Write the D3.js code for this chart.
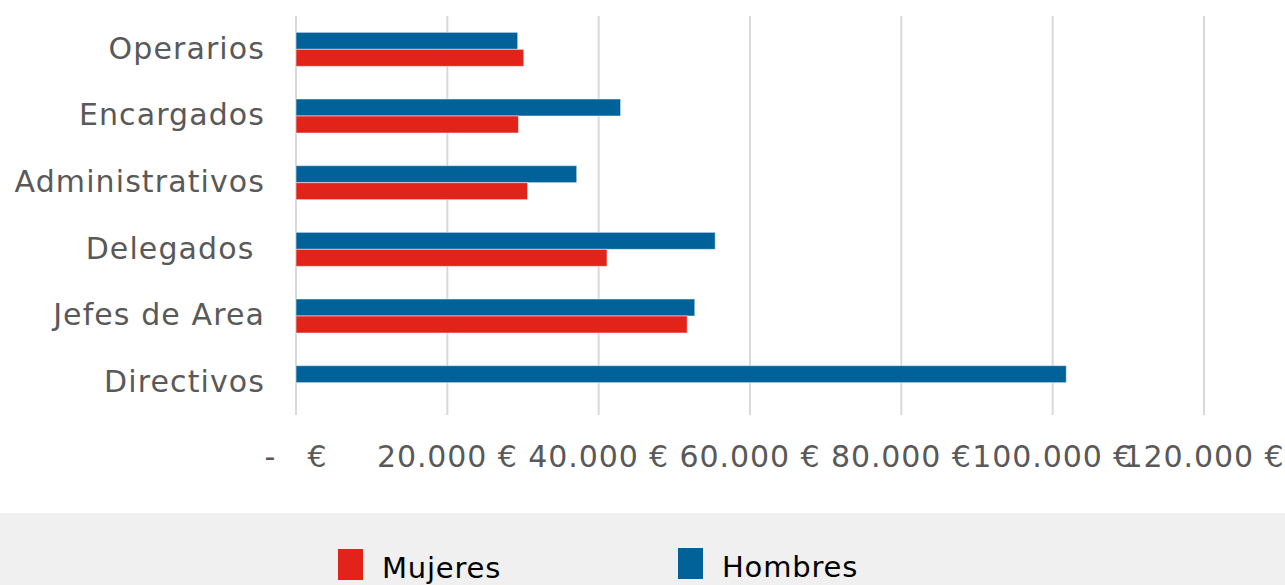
<!DOCTYPE html>
<html>
<head>
<meta charset="utf-8">
<script src="https://cdn.jsdelivr.net/npm/d3@7"></script>
<style>
  body { margin: 0; background: #fff; }
  svg text { font-family: "DejaVu Sans", sans-serif; }
</style>
</head>
<body>
<svg id="chart" width="1285" height="585"></svg>
<script>
const categories = ['Operarios', 'Encargados', 'Administrativos', 'Delegados ', 'Jefes de Area', 'Directivos'];
const series = ['Hombres', 'Mujeres'];
const hombres = [29300, 42900, 37100, 55400, 52700, 101800];
const mujeres = [30100, 29400, 30600, 41100, 51700, 0];
const xTicks = [0, 20000, 40000, 60000, 80000, 100000, 120000];
const legendOrder = ['Mujeres', 'Hombres'];

const colors = { Hombres: '#006298', Mujeres: '#e2231a' };
const svg = d3.select('#chart');

const x = d3.scaleLinear().domain([0, 120000]).range([296, 1204]);
const y = d3.scaleBand().domain(categories).range([16, 416]).paddingInner(0.49).paddingOuter(0.245);
const ySub = d3.scaleBand().domain(series).range([0, y.bandwidth()]);

// legend background
svg.append('rect').attr('x', 0).attr('y', 513).attr('width', 1285).attr('height', 72).attr('fill', '#f0f0f0');

// gridlines
svg.append('g').selectAll('line')
  .data(xTicks)
  .enter().append('line')
  .attr('x1', d => x(d)).attr('x2', d => x(d))
  .attr('y1', 16).attr('y2', 415)
  .attr('stroke', '#d9d9d9').attr('stroke-width', 2);

// bars
const rows = categories.map((c, i) => ({ cat: c, Hombres: hombres[i], Mujeres: mujeres[i] }));
const group = svg.append('g').selectAll('g')
  .data(rows)
  .enter().append('g')
  .attr('transform', d => `translate(0, ${y(d.cat)})`);

group.selectAll('rect')
  .data(d => series.map(s => ({ s, v: d[s] })).filter(e => e.v > 0))
  .enter().append('rect')
  .attr('x', x(0))
  .attr('y', d => ySub(d.s))
  .attr('width', d => x(d.v) - x(0))
  .attr('height', ySub.bandwidth())
  .attr('fill', d => colors[d.s])
  .attr('stroke', 'rgba(255,255,255,0.5)')
  .attr('stroke-width', 1);

// category labels
svg.append('g').selectAll('text')
  .data(categories)
  .enter().append('text')
  .attr('x', 265)
  .attr('y', d => y(d) + y.bandwidth() / 2)
  .attr('dy', '0.31em')
  .attr('text-anchor', 'end')
  .attr('fill', '#595959')
  .attr('font-size', 30)
  .attr('letter-spacing', 1.1)
  .style('white-space', 'pre')
  .text(d => d);

// x tick labels (accounting format)
const fmt = v => v === 0 ? '-   €' : d3.format(',')(v).replace(/,/g, '.') + ' €';
svg.append('g').selectAll('text')
  .data(xTicks)
  .enter().append('text')
  .attr('x', d => x(d))
  .attr('y', 467)
  .attr('text-anchor', 'middle')
  .attr('fill', '#595959')
  .attr('font-size', 30)
  .attr('letter-spacing', 0.9)
  .style('white-space', 'pre')
  .text(fmt);

// legend
const legendX = { Mujeres: 338, Hombres: 678 };
const legendY = { Mujeres: 549, Hombres: 548 };
const legend = svg.append('g').selectAll('g')
  .data(legendOrder)
  .enter().append('g');
legend.append('rect')
  .attr('x', d => legendX[d]).attr('y', d => legendY[d])
  .attr('width', 25).attr('height', 31)
  .attr('fill', d => colors[d]);
legend.append('text')
  .attr('x', d => legendX[d] + 44)
  .attr('y', d => legendY[d] + 29)
  .attr('fill', '#000')
  .attr('font-size', 29)
  .attr('letter-spacing', 0.8)
  .text(d => d);
</script>
</body>
</html>
